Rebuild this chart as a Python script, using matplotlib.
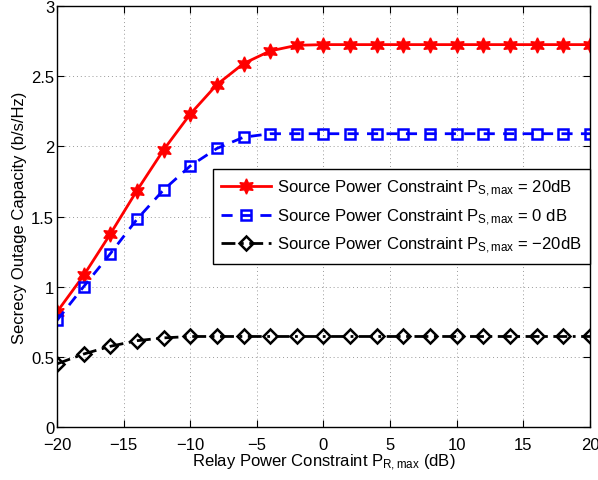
import matplotlib
matplotlib.use("Agg")
import matplotlib.pyplot as plt
import numpy as np

plt.rcParams['font.family'] = ['Liberation Sans', 'DejaVu Sans']
plt.rcParams['mathtext.fontset'] = 'custom'
plt.rcParams['mathtext.rm'] = 'Liberation Sans'
plt.rcParams['mathtext.it'] = 'Liberation Sans'

relay_db = [-20, -18, -16, -14, -12, -10, -8, -6, -4, -2, 0, 2, 4, 6, 8, 10, 12, 14, 16, 18, 20]
cap_20db = [0.82, 1.08, 1.375, 1.685, 1.975, 2.23, 2.44, 2.59, 2.68, 2.72, 2.725, 2.725, 2.725, 2.725, 2.725, 2.725, 2.725, 2.725, 2.725, 2.725, 2.725]
cap_0db = [0.76, 1.0, 1.235, 1.48, 1.69, 1.86, 1.985, 2.065, 2.09, 2.09, 2.09, 2.09, 2.09, 2.09, 2.09, 2.09, 2.09, 2.09, 2.09, 2.09, 2.09]
cap_m20db = [0.45, 0.52, 0.575, 0.615, 0.635, 0.645, 0.645, 0.645, 0.645, 0.645, 0.645, 0.645, 0.645, 0.645, 0.645, 0.645, 0.645, 0.645, 0.645, 0.645, 0.645]

labels = [r'Source Power Constraint P$_{\mathrm{S,max}}$ = 20dB',
          r'Source Power Constraint P$_{\mathrm{S,max}}$ = 0 dB',
          r'Source Power Constraint P$_{\mathrm{S,max}}$ = $-$20dB']

fig = plt.figure(figsize=(5.98, 4.81), dpi=100)
ax = fig.add_axes([0.0953, 0.1102, 0.8913, 0.8752])

ax.plot(relay_db, cap_20db, color='red', lw=2, ls='-', marker=(6, 1, 0), ms=11,
        mfc='red', mec='red', label=labels[0])
ax.plot(relay_db, cap_0db, color='blue', lw=2, ls=(0, (4, 3)), marker='s', ms=7.5,
        mfc='none', mec='blue', mew=1.8, label=labels[1])
ax.plot(relay_db, cap_m20db, color='black', lw=2, ls=(0, (5, 2, 1, 2)), marker='D', ms=7.5,
        mfc='none', mec='black', mew=1.8, label=labels[2])

ax.set_xlim(-20, 20)
ax.set_ylim(0, 3)
ax.set_xticks(np.arange(-20, 21, 5))
ax.set_yticks(np.arange(0, 3.01, 0.5))
ax.set_xticklabels(['\u221220', '\u221215', '\u221210', '\u22125', '0', '5', '10', '15', '20'])
ax.set_yticklabels(['0', '0.5', '1', '1.5', '2', '2.5', '3'])
ax.tick_params(direction='in', top=True, right=True, labelsize=12, length=5)
ax.tick_params(axis='x', pad=7)
ax.tick_params(axis='y', pad=2)
ax.grid(True, ls=(0, (1, 3)), color='#999999', lw=0.7)
for s in ax.spines.values():
    s.set_linewidth(1.0)

ax.set_xlabel(r'Relay Power Constraint P$_{\mathrm{R,max}}$ (dB)', fontsize=12, labelpad=0)
ax.set_ylabel('Secrecy Outage Capacity (b/s/Hz)', fontsize=12, labelpad=3)

leg = ax.legend(loc='center right', bbox_to_anchor=(1.0, 0.5), borderaxespad=0.0,
                fontsize=12, frameon=True, fancybox=False, edgecolor='black',
                framealpha=1, handlelength=3.0, handletextpad=0.35,
                labelspacing=0.5, borderpad=0.5)
leg.get_frame().set_linewidth(1.0)

fig.savefig('out.png', dpi=100)
